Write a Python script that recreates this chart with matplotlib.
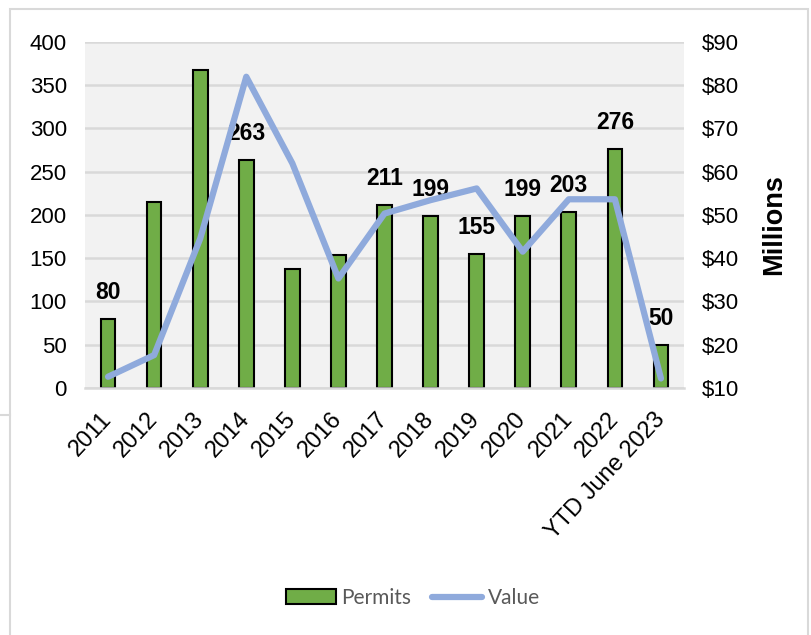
import matplotlib
matplotlib.use('Agg')
import matplotlib.pyplot as plt
from matplotlib.patches import Rectangle, Patch
from matplotlib.lines import Line2D

plt.rcParams['font.family'] = ['Liberation Sans', 'DejaVu Sans']

# data
years = ['2011', '2012', '2013', '2014', '2015', '2016', '2017', '2018',
         '2019', '2020', '2021', '2022', 'YTD June 2023']
permits = [80, 215, 367, 263, 137, 154, 211, 199, 155, 199, 203, 276, 50]
value_millions = [12.6, 17.6, 44.5, 81.9, 61.9, 35.3, 50.3, 53.4, 56.1,
                  41.5, 53.6, 53.6, 12.2]
labeled_years = ['2011', '2014', '2017', '2018', '2019', '2020', '2021',
                 '2022', 'YTD June 2023']
left_ticks = list(range(0, 401, 50))
right_ticks = list(range(10, 91, 10))

GREEN = '#70AD47'
BLUE = '#8FAADC'
GRID = '#D9D9D9'
PLOTBG = '#F2F2F2'

W, H = 811, 635
fig = plt.figure(figsize=(W / 100, H / 100), dpi=100, facecolor='white')

# outer frame of the screenshot
fig.add_artist(Rectangle((10 / W, -0.01), 798 / W, 1 - 9 / H + 0.01,
                         transform=fig.transFigure, fill=False,
                         edgecolor=GRID, linewidth=1.5))
fig.add_artist(Line2D([0, 10 / W], [1 - 415 / H, 1 - 415 / H],
                      transform=fig.transFigure, color=GRID, linewidth=1.5))

ax = fig.add_axes([85 / W, 1 - 388 / H, 599 / W, 346.3 / H])
ax.set_facecolor(PLOTBG)
x = list(range(len(years)))

ax.set_axisbelow(True)
ax.yaxis.grid(True, color=GRID, linewidth=1.8)
bars = ax.bar(x, permits, width=0.32, color=GREEN, edgecolor='black',
              linewidth=1.5, zorder=2)
ax.set_xlim(-0.5, len(years) - 0.5)
ax.set_ylim(0, 400)
ax.set_yticks(left_ticks)
ax.set_xticks(x)
ax.set_xticklabels(years, rotation=47, ha='right', va='center',
                   rotation_mode='anchor', fontsize=17)
ax.tick_params(axis='y', length=0, labelsize=16, pad=13)
ax.tick_params(axis='x', length=0, pad=20)
for s in ['top', 'right', 'left']:
    ax.spines[s].set_visible(False)
ax.spines['bottom'].set_color(GRID)
ax.spines['bottom'].set_linewidth(1.8)

for xi, yr, p in zip(x, years, permits):
    if yr in labeled_years:
        ax.annotate(str(p), (xi, p), xytext=(0, 19), textcoords='offset points',
                    ha='center', va='center', fontsize=16.5, fontweight='bold',
                    zorder=5)

ax2 = ax.twinx()
ax2.plot(x, value_millions, color=BLUE, linewidth=4.5,
         solid_capstyle='round', solid_joinstyle='round', zorder=3)
ax2.set_ylim(10, 90)
ax2.set_yticks(right_ticks)
ax2.set_yticklabels(['$%d' % t for t in right_ticks])
ax2.tick_params(axis='y', length=0, labelsize=16, pad=13)
for s in ax2.spines.values():
    s.set_visible(False)

fig.text(774 / W, 1 - 225 / H, 'Millions', rotation=90, fontsize=19.5,
         fontweight='bold', ha='center', va='center')

handles = [Patch(facecolor=GREEN, edgecolor='black', linewidth=1.5),
           Line2D([], [], color=BLUE, linewidth=4.5, solid_capstyle='round')]
leg = fig.legend(handles, ['Permits', 'Value'], loc='center',
                 bbox_to_anchor=(413 / W, 1 - 598 / H), ncol=2, frameon=False,
                 prop={'family': ['Lato', 'DejaVu Sans'], 'size': 15},
                 handlelength=2.4, handleheight=0.7, handletextpad=0.25,
                 columnspacing=1.0)
for t in leg.get_texts():
    t.set_color('#595959')

fig.savefig('out.png', dpi=100, facecolor='white')
